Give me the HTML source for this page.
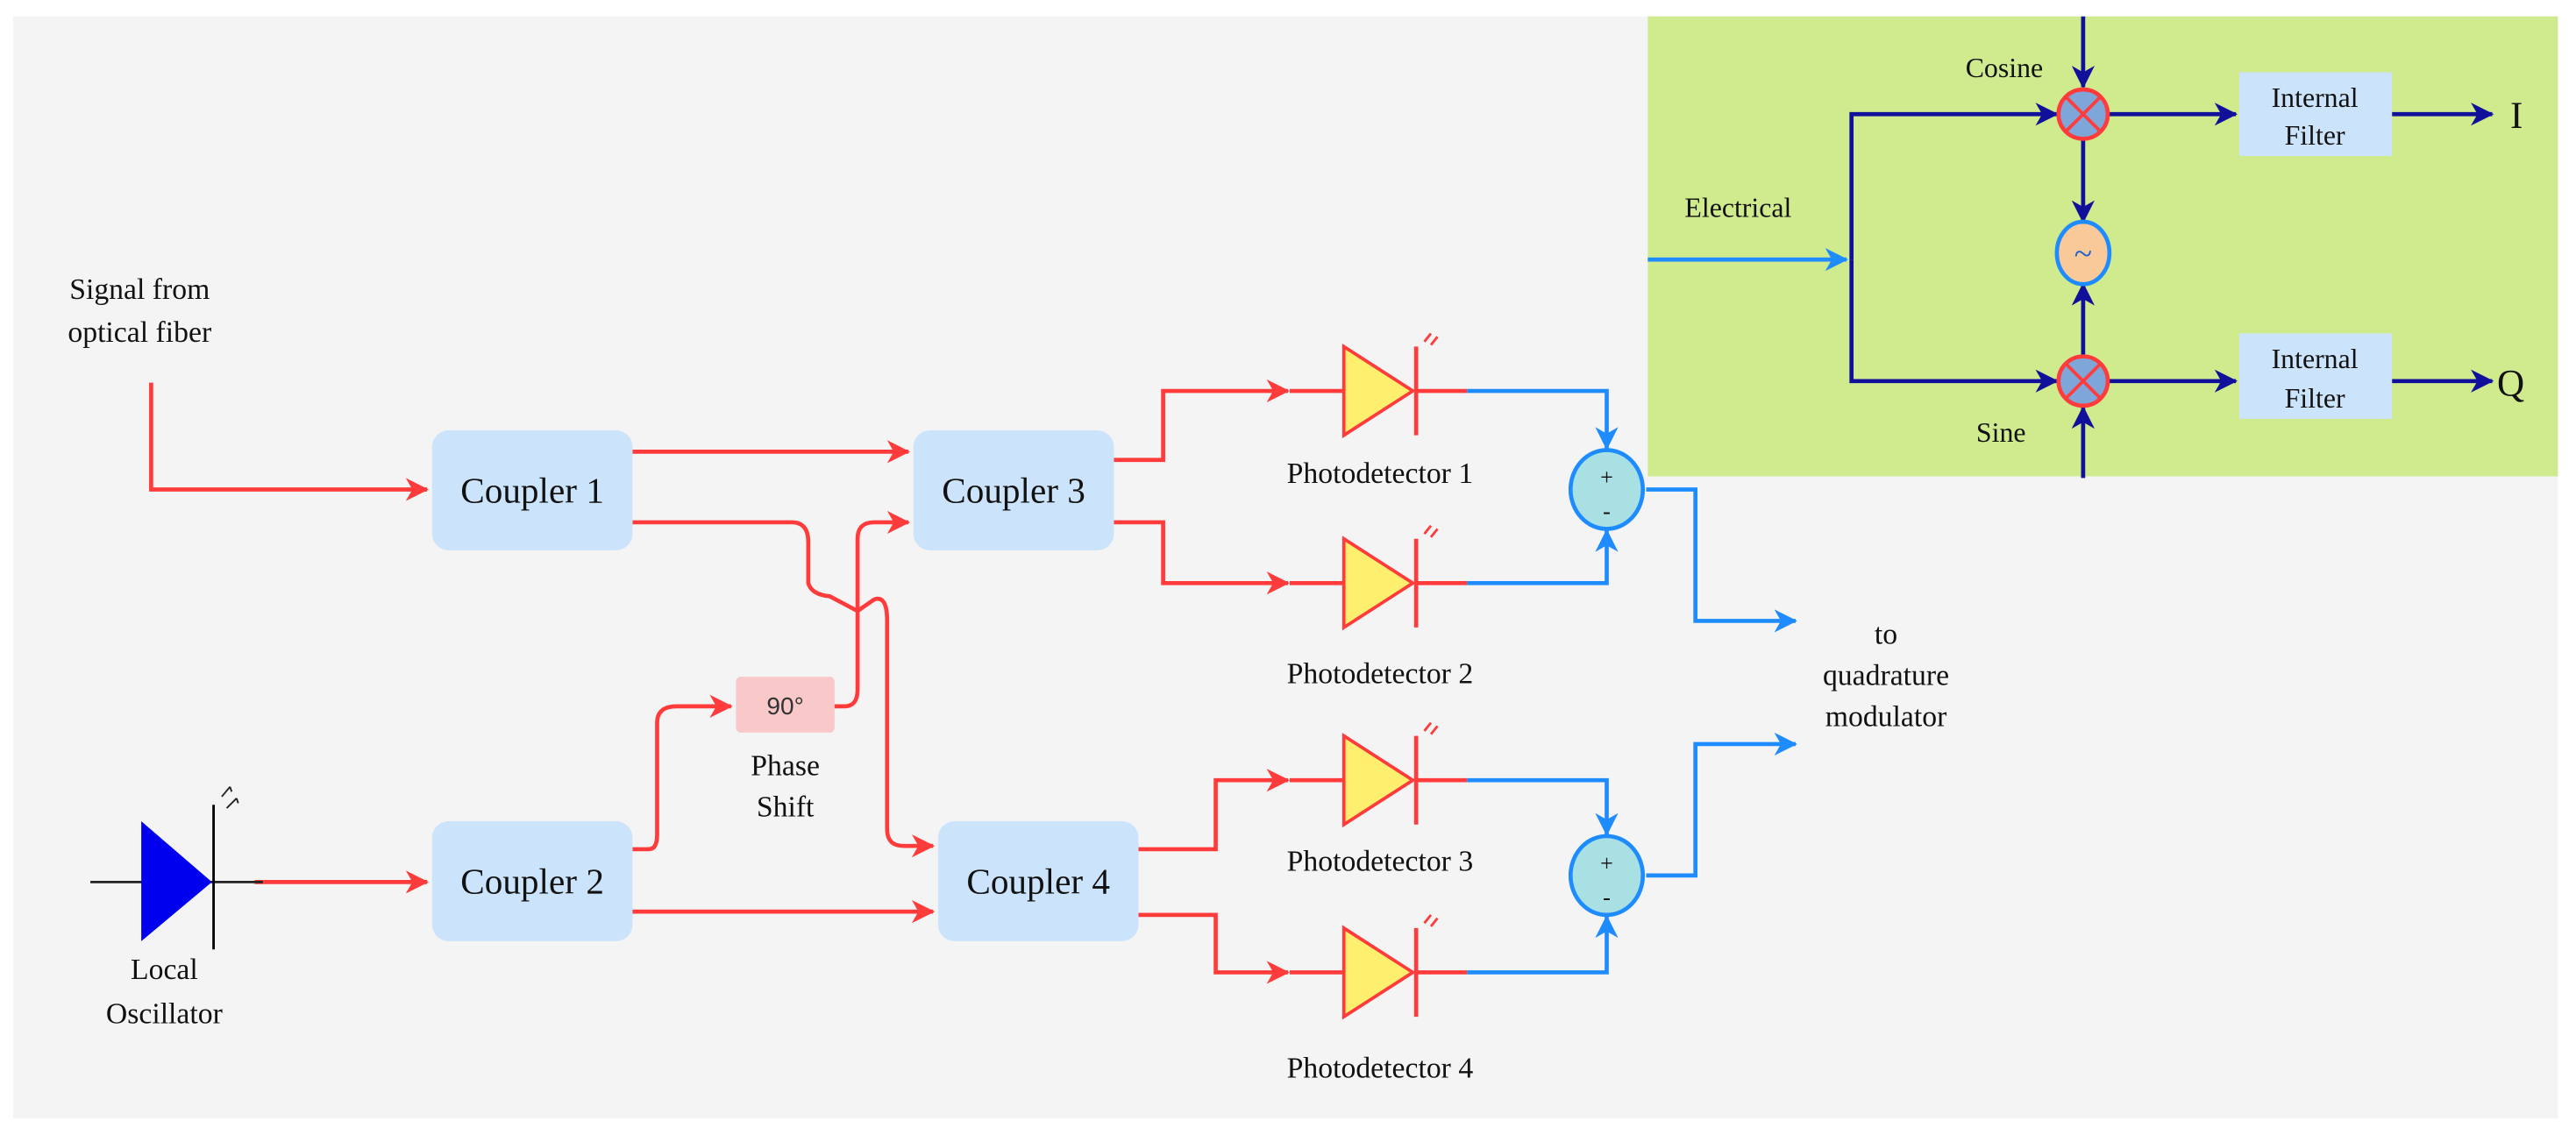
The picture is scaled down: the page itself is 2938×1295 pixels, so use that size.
<!DOCTYPE html>
<html><head><meta charset="utf-8"><style>
html,body{margin:0;padding:0;background:#fff;}
svg{display:block}
text{font-family:"Liberation Serif",serif;fill:#111}
</style></head><body>
<svg width="2938" height="1295" viewBox="0 0 1568 691" preserveAspectRatio="none" xmlns="http://www.w3.org/2000/svg">
<defs>
<marker id="ar" markerWidth="14" markerHeight="14" refX="13" refY="7" orient="auto" markerUnits="userSpaceOnUse"><path d="M0,0 L14,7 L0,14 L4,7 Z" fill="#ff3b3b"/></marker>
<marker id="ab" markerWidth="14" markerHeight="14" refX="13" refY="7" orient="auto" markerUnits="userSpaceOnUse"><path d="M0,0 L14,7 L0,14 L4,7 Z" fill="#1e8cff"/></marker>
<marker id="ad" markerWidth="14" markerHeight="14" refX="13" refY="7" orient="auto" markerUnits="userSpaceOnUse"><path d="M0,0 L14,7 L0,14 L4,7 Z" fill="#10109a"/></marker>
</defs>
<rect x="0" y="0" width="1568" height="691" fill="#fff"/>
<rect x="8" y="10" width="1549" height="671" fill="#f4f4f4"/>
<rect x="1003" y="10" width="554" height="280" fill="#d0ea8e"/>

<text x="85" y="182" font-size="18" text-anchor="middle">Signal from</text>
<text x="85" y="208" font-size="18" text-anchor="middle">optical fiber</text>

<g fill="none" stroke="#ff3b3b" stroke-width="2.5">
<path d="M92,233 V298 H260" marker-end="url(#ar)"/>
<path d="M385,275 H553" marker-end="url(#ar)"/>
<path d="M385,318 H482 Q492,318 492,330 V355 Q494,362 505,363 L522,372 L532,365 Q540,362 540,378 V505 Q540,515 550,515 H568" marker-end="url(#ar)"/>
<path d="M385,517 H395 Q400,517 400,508 V440 Q400,430 412,430 H445" marker-end="url(#ar)"/>
<path d="M508,430 H514 Q522,430 522,420 V328 Q522,318 532,318 H553" marker-end="url(#ar)"/>
<path d="M385,555 H568" marker-end="url(#ar)"/>
<path d="M155,537 H260" marker-end="url(#ar)"/>
<path d="M678,280 H708 V238 H784" marker-end="url(#ar)"/>
<path d="M678,318 H708 V355 H784" marker-end="url(#ar)"/>
<path d="M693,517 H740 V475 H784" marker-end="url(#ar)"/>
<path d="M693,557 H740 V592 H784" marker-end="url(#ar)"/>
</g>

<g fill="#cce4fb">
<rect x="263" y="262" width="122" height="73" rx="10"/>
<rect x="556" y="262" width="122" height="73" rx="10"/>
<rect x="263" y="500" width="122" height="73" rx="10"/>
<rect x="571" y="500" width="122" height="73" rx="10"/>
</g>
<g font-size="22" text-anchor="middle">
<text x="324" y="306">Coupler 1</text>
<text x="617" y="306">Coupler 3</text>
<text x="324" y="544">Coupler 2</text>
<text x="632" y="544">Coupler 4</text>
</g>

<rect x="448" y="412" width="60" height="34" rx="3" fill="#f9c8c8"/>
<text x="478" y="435" font-size="15" text-anchor="middle" style="font-family:'Liberation Sans',sans-serif;fill:#333">90°</text>
<text x="478" y="472" font-size="18" text-anchor="middle">Phase</text>
<text x="478" y="497" font-size="18" text-anchor="middle">Shift</text>

<line x1="55" y1="537" x2="160" y2="537" stroke="#222" stroke-width="1.5"/>
<polygon points="86,500 86,573 129,537" fill="#0000ee"/>
<line x1="130" y1="490" x2="130" y2="578" stroke="#000" stroke-width="1.5"/>
<path d="M135,485 l5,-6 M138,492 l6,-6 M140,479 l1,3 M144,486 l1,3" stroke="#222" stroke-width="1" fill="none"/>
<text x="100" y="596" font-size="18" text-anchor="middle">Local</text>
<text x="100" y="623" font-size="18" text-anchor="middle">Oscillator</text>

<g>
<g transform="translate(0,238)"><path d="M785,0 H818 M862,0 H893" stroke="#ff3b3b" stroke-width="2.5"/><polygon points="818,-27 818,27 860,0" fill="#ffef6e" stroke="#ff3b3b" stroke-width="2"/><line x1="862" y1="-27" x2="862" y2="27" stroke="#ff3b3b" stroke-width="2.5"/><path d="M867,-30 l4,-5 M871,-28 l4,-5" stroke="#ff3b3b" stroke-width="1.5"/></g>
<g transform="translate(0,355)"><path d="M785,0 H818 M862,0 H893" stroke="#ff3b3b" stroke-width="2.5"/><polygon points="818,-27 818,27 860,0" fill="#ffef6e" stroke="#ff3b3b" stroke-width="2"/><line x1="862" y1="-27" x2="862" y2="27" stroke="#ff3b3b" stroke-width="2.5"/><path d="M867,-30 l4,-5 M871,-28 l4,-5" stroke="#ff3b3b" stroke-width="1.5"/></g>
<g transform="translate(0,475)"><path d="M785,0 H818 M862,0 H893" stroke="#ff3b3b" stroke-width="2.5"/><polygon points="818,-27 818,27 860,0" fill="#ffef6e" stroke="#ff3b3b" stroke-width="2"/><line x1="862" y1="-27" x2="862" y2="27" stroke="#ff3b3b" stroke-width="2.5"/><path d="M867,-30 l4,-5 M871,-28 l4,-5" stroke="#ff3b3b" stroke-width="1.5"/></g>
<g transform="translate(0,592)"><path d="M785,0 H818 M862,0 H893" stroke="#ff3b3b" stroke-width="2.5"/><polygon points="818,-27 818,27 860,0" fill="#ffef6e" stroke="#ff3b3b" stroke-width="2"/><line x1="862" y1="-27" x2="862" y2="27" stroke="#ff3b3b" stroke-width="2.5"/><path d="M867,-30 l4,-5 M871,-28 l4,-5" stroke="#ff3b3b" stroke-width="1.5"/></g>
</g>
<g font-size="18" text-anchor="middle">
<text x="840" y="294">Photodetector 1</text>
<text x="840" y="416">Photodetector 2</text>
<text x="840" y="530">Photodetector 3</text>
<text x="840" y="656">Photodetector 4</text>
</g>

<g fill="none" stroke="#1e8cff" stroke-width="2.5">
<path d="M893,238 H978 V273" marker-end="url(#ab)"/>
<path d="M893,355 H978 V323" marker-end="url(#ab)"/>
<path d="M893,475 H978 V508" marker-end="url(#ab)"/>
<path d="M893,592 H978 V558" marker-end="url(#ab)"/>
<path d="M1002,298 H1032 V378 H1093" marker-end="url(#ab)"/>
<path d="M1002,533 H1032 V453 H1093" marker-end="url(#ab)"/>
<path d="M1003,158 H1124" marker-end="url(#ab)"/>
</g>
<g>
<ellipse cx="978" cy="298" rx="22" ry="24" fill="#a8e0e3" stroke="#1e8cff" stroke-width="2.5"/>
<text x="978" y="295" font-size="14" text-anchor="middle">+</text><text x="978" y="316" font-size="14" text-anchor="middle">-</text>
<ellipse cx="978" cy="533" rx="22" ry="24" fill="#a8e0e3" stroke="#1e8cff" stroke-width="2.5"/>
<text x="978" y="530" font-size="14" text-anchor="middle">+</text><text x="978" y="551" font-size="14" text-anchor="middle">-</text>
</g>
<g font-size="18" text-anchor="middle">
<text x="1148" y="392">to</text>
<text x="1148" y="417">quadrature</text>
<text x="1148" y="442">modulator</text>
</g>

<g fill="none" stroke="#10109a" stroke-width="2.5">
<path d="M1268,10 V53" marker-end="url(#ad)"/>
<path d="M1268,85 V135" marker-end="url(#ad)"/>
<path d="M1268,217 V173" marker-end="url(#ad)"/>
<path d="M1268,291 V248" marker-end="url(#ad)"/>
<path d="M1127,158 V69.5 H1252" marker-end="url(#ad)"/>
<path d="M1127,158 V232 H1252" marker-end="url(#ad)"/>
<path d="M1284,69.5 H1361" marker-end="url(#ad)"/>
<path d="M1284,232 H1361" marker-end="url(#ad)"/>
<path d="M1456,69.5 H1517" marker-end="url(#ad)"/>
<path d="M1456,232 H1517" marker-end="url(#ad)"/>
</g>
<g>
<ellipse cx="1268" cy="69.5" rx="15" ry="15" fill="#7fa6d8" stroke="#ff3b3b" stroke-width="2.5"/>
<path d="M1258,59.5 L1278,79.5 M1278,59.5 L1258,79.5" stroke="#ff3b3b" stroke-width="2"/>
<ellipse cx="1268" cy="232" rx="15" ry="15" fill="#7fa6d8" stroke="#ff3b3b" stroke-width="2.5"/>
<path d="M1258,222 L1278,242 M1278,222 L1258,242" stroke="#ff3b3b" stroke-width="2"/>
<ellipse cx="1268" cy="154" rx="16" ry="19" fill="#fac99a" stroke="#1e8cff" stroke-width="2.5"/>
<text x="1268" y="161" font-size="20" text-anchor="middle" style="fill:#1e5fd0">~</text>
</g>
<rect x="1363" y="44" width="93" height="51" fill="#cce4fb"/>
<rect x="1363" y="203" width="93" height="52" fill="#cce4fb"/>
<g font-size="17" text-anchor="middle">
<text x="1409" y="65">Internal</text><text x="1409" y="88">Filter</text>
<text x="1409" y="224">Internal</text><text x="1409" y="248">Filter</text>
<text x="1220" y="47">Cosine</text>
<text x="1218" y="269">Sine</text>
<text x="1058" y="132">Electrical</text>
</g>
<text x="1528" y="78" font-size="23">I</text>
<text x="1520" y="241" font-size="23">Q</text>
</svg>
</body></html>
